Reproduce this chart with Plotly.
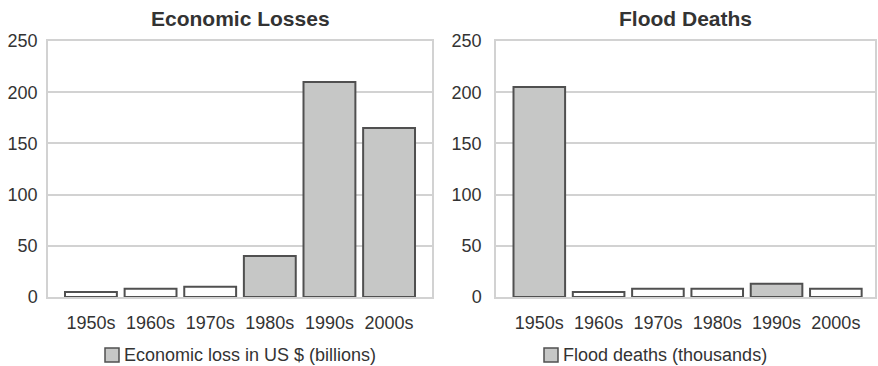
import plotly.graph_objects as go

# Decade categories shared by both panels
decades = ["1950s", "1960s", "1970s", "1980s", "1990s", "2000s"]

# Economic losses per decade, US $ billions
economic_loss = [5, 8, 10, 40, 210, 165]
# Flood deaths per decade, thousands
flood_deaths = [205, 5, 8, 8, 13, 8]

# Which bars are shaded (True) vs left white (False)
economic_shaded = [False, False, False, True, True, True]
deaths_shaded = [True, False, False, False, True, False]

y_ticks = [0, 50, 100, 150, 200, 250]

panel_titles = ["Economic Losses", "Flood Deaths"]
legend_labels = ["Economic loss in US $ (billions)", "Flood deaths (thousands)"]

SHADE = "#c6c7c6"
OUTLINE = "#505050"
GRID = "#d2d2d2"
TEXT = "#333333"
FONT = "Liberation Sans, Arial, sans-serif"

W, H = 878, 366

def fills(flags):
    return [SHADE if f else "#ffffff" for f in flags]

fig = go.Figure()
fig.add_trace(go.Bar(
    x=decades, y=economic_loss, xaxis="x", yaxis="y",
    marker=dict(color=fills(economic_shaded), line=dict(color=OUTLINE, width=2)),
    width=0.87, showlegend=False,
))
fig.add_trace(go.Bar(
    x=decades, y=flood_deaths, xaxis="x2", yaxis="y2",
    marker=dict(color=fills(deaths_shaded), line=dict(color=OUTLINE, width=2)),
    width=0.87, showlegend=False,
))

# Panel placement in pixels (left, right) and shared vertical extent
panels = [(48, 432), (496, 875)]
top_px, bottom_px = 41, 297
y_dom = [1 - bottom_px / H, 1 - top_px / H]

axis_common = dict(
    showline=True, mirror=True, linecolor=GRID, linewidth=1.5,
    tickfont=dict(family=FONT, size=18, color=TEXT),
    automargin=False,
)

layout = dict(
    width=W, height=H,
    margin=dict(l=0, r=0, t=0, b=0, pad=0),
    paper_bgcolor="white", plot_bgcolor="white",
    font=dict(family=FONT, color=TEXT),
    showlegend=False,
    bargap=0.13,
)

x_ranges = [[-0.72, 5.72], [-0.73, 5.66]]
y_standoff = [5, 9]
for i, (l, r) in enumerate(panels):
    sfx = "" if i == 0 else str(i + 1)
    layout["xaxis" + sfx] = dict(
        domain=[l / W, r / W], anchor="y" + sfx, type="category",
        range=x_ranges[i], showgrid=False, ticks="",
        ticklabelstandoff=9, **axis_common,
    )
    layout["yaxis" + sfx] = dict(
        domain=y_dom, anchor="x" + sfx, range=[0, 250],
        tickvals=y_ticks, showgrid=True, gridcolor=GRID, gridwidth=1.5,
        zeroline=False, ticks="", ticklabelstandoff=y_standoff[i],
        **axis_common,
    )

fig.update_layout(**layout)

# Panel titles
for (l, r), title in zip(panels, panel_titles):
    fig.add_annotation(
        x=(l + r) / 2 / W, y=1 - 19 / H, xref="paper", yref="paper",
        text=f"<b>{title}</b>", showarrow=False,
        font=dict(family=FONT, size=21, color=TEXT),
        xanchor="center", yanchor="middle",
    )

# Legend keys beneath each panel: shaded square followed by the label
legend_left = [105, 544]
legend_y = 355
for x0, label in zip(legend_left, legend_labels):
    fig.add_shape(
        type="rect", xref="paper", yref="paper",
        x0=x0 / W, x1=(x0 + 14) / W,
        y0=1 - (legend_y + 7) / H, y1=1 - (legend_y - 7) / H,
        fillcolor=SHADE, line=dict(color=OUTLINE, width=1.5),
    )
    fig.add_annotation(
        x=(x0 + 17) / W, y=1 - legend_y / H, xref="paper", yref="paper",
        text=label, showarrow=False,
        font=dict(family=FONT, size=18, color=TEXT),
        xanchor="left", yanchor="middle",
    )

fig.write_html("out.html")
